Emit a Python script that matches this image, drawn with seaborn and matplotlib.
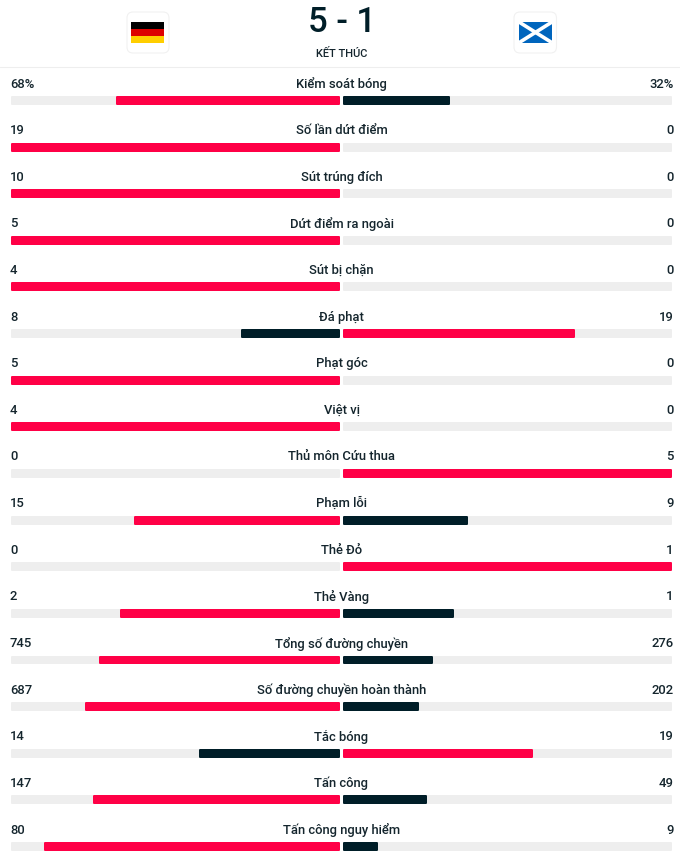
import matplotlib
matplotlib.use("Agg")
import matplotlib.pyplot as plt
from matplotlib.patches import FancyBboxPatch, Rectangle
import pandas as pd
import seaborn as sns

stats = ["Kiểm soát bóng", "Số lần dứt điểm", "Sút trúng đích", "Dứt điểm ra ngoài", "Sút bị chặn",
         "Đá phạt", "Phạt góc", "Việt vị", "Thủ môn Cứu thua", "Phạm lỗi", "Thẻ Đỏ", "Thẻ Vàng",
         "Tổng số đường chuyền", "Số đường chuyền hoàn thành", "Tắc bóng", "Tấn công", "Tấn công nguy hiểm"]
home = [68, 19, 10, 5, 4, 8, 5, 4, 0, 15, 0, 2, 745, 687, 14, 147, 80]
away = [32, 0, 0, 0, 0, 19, 0, 0, 5, 9, 1, 1, 276, 202, 19, 49, 9]
suffix = ["%"] + [""] * 16
score = "5 - 1"
status = "KẾT THÚC"

RED, NAVY, TRACK, INK = "#ff0046", "#001e28", "#eeeeee", "#14252d"
W, H, DPI = 680, 864, 100
ROW, FIRST_BAR, FIRST_TEXT = 46.625, 100.5, 84.0
JOIN_PX = 2.0
sns.set_theme(style="white", rc={"font.family": ["Roboto", "DejaVu Sans"]})
plt.rcParams["font.family"] = ["Roboto", "DejaVu Sans"]

df = pd.DataFrame({"stat": stats, "home": home, "away": away})
df["total"] = df["home"] + df["away"]
df["home_share"] = df["home"] / df["total"]
df["away_share"] = df["away"] / df["total"]
df["home_lead"] = df["home"] > df["away"]

fig = plt.figure(figsize=(W / DPI, H / DPI), dpi=DPI, facecolor="white")

def panel(x0, x1, value, colour_when_lead, colour_when_trail, invert):
    top, bottom = 77.0, 864.0
    ax = fig.add_axes([x0 / W, 1 - bottom / H, (x1 - x0) / W, (bottom - top) / H])
    sns.barplot(x=[1.0] * len(stats), y=stats, order=stats, color=TRACK, saturation=1,
                width=7 / ROW, ax=ax, linewidth=0)
    sub = df[df[value] > 0].copy()
    sub["tone"] = sub["home_lead"].map({True: colour_when_lead, False: colour_when_trail})
    sns.barplot(data=sub, x=value, y="stat", order=stats, hue="tone",
                palette={RED: RED, NAVY: NAVY}, dodge=False, saturation=1,
                width=7 / ROW, ax=ax, legend=False, linewidth=0)
    for p in ax.patches:
        if p.get_width() > 0:
            p.set_edgecolor(p.get_facecolor())
            p.set_linewidth(JOIN_PX * 72 / DPI)
            p.set_joinstyle("round")
            p.set_clip_on(False)
    ax.set_xlim((1, 0) if invert else (0, 1))
    ax.set_ylim((bottom - FIRST_BAR) / ROW, (top - FIRST_BAR) / ROW)
    ax.axis("off")
    return ax

panel(12, 339, "home_share", RED, NAVY, True)
panel(344, 671, "away_share", NAVY, RED, False)

ov = fig.add_axes([0, 0, 1, 1], zorder=5)
ov.set_xlim(0, W)
ov.set_ylim(H, 0)
ov.axis("off")

for i, s in enumerate(stats):
    y = FIRST_TEXT + i * ROW
    ov.text(341.5, y, s, ha="center", va="center", fontsize=9.4, fontweight="medium", color=INK)
    ov.text(10, y, f"{home[i]}{suffix[i]}", ha="left", va="center", fontsize=9.4, fontweight="medium", color=INK)
    ov.text(673.5, y, f"{away[i]}{suffix[i]}", ha="right", va="center", fontsize=9.4, fontweight="medium", color=INK)

ov.plot([0, W], [66.5, 66.5], color="#eeeeee", lw=0.8)
ov.text(341.5, 23, score, ha="center", va="center", fontsize=25, fontweight="medium", color=NAVY)
ov.text(341.5, 53.5, status, ha="center", va="center", fontsize=8, fontweight="medium", color=INK)

for x0, x1 in [(127, 169), (514, 556.5)]:
    ov.add_patch(FancyBboxPatch((x0 + 6, 12 + 6), x1 - x0 - 12, 41 - 12, boxstyle="round,pad=6,rounding_size=6",
                                fc="white", ec="#f1f1f1", lw=0.8))
for k, c in enumerate(["#000000", "#dd0000", "#ffce00"]):
    ov.add_patch(Rectangle((131, 22 + k * 6.9), 33, 6.9, fc=c, ec="none"))
x0, x1, y0, y1 = 519, 552, 22, 42.7
ov.add_patch(Rectangle((x0, y0), x1 - x0, y1 - y0, fc="#0065bd", ec="none"))
ov.plot([x0, x1], [y0, y1], color="white", lw=2.6, solid_capstyle="butt")
ov.plot([x0, x1], [y1, y0], color="white", lw=2.6, solid_capstyle="butt")

fig.savefig("out.png", dpi=DPI, facecolor="white")
